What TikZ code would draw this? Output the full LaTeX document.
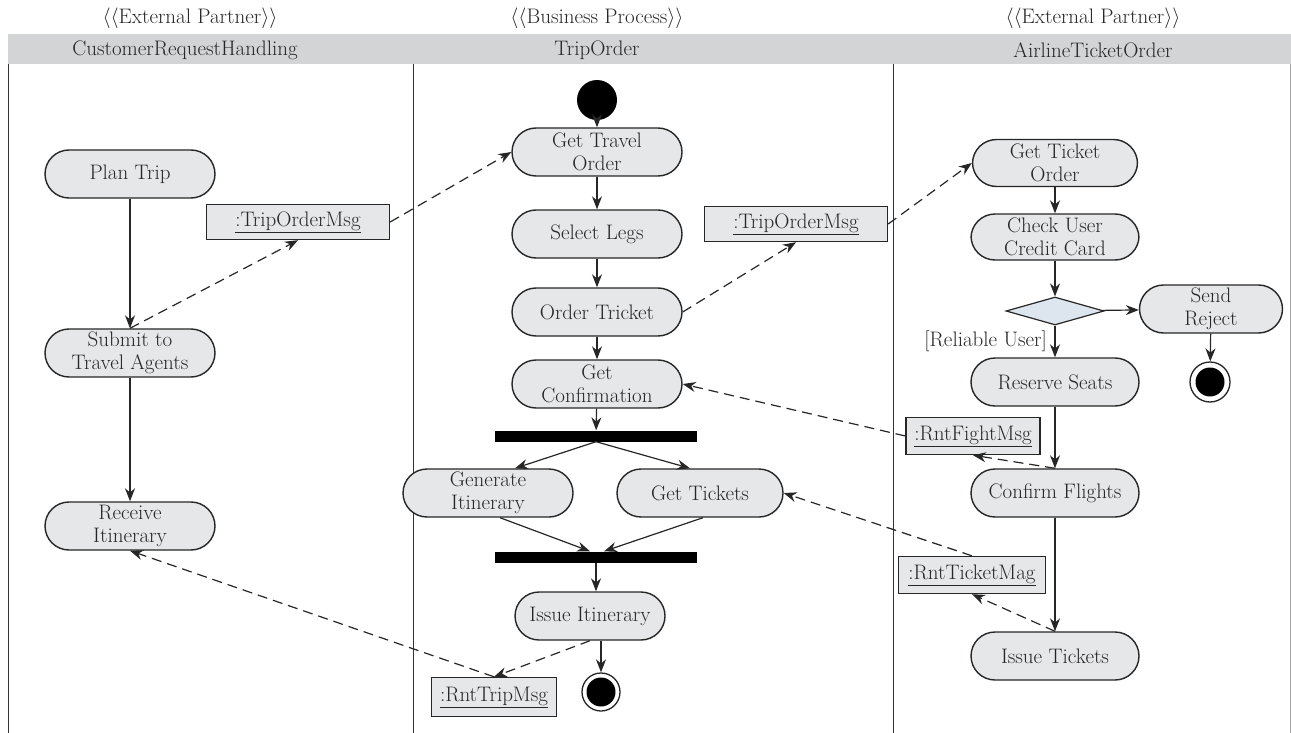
\documentclass[tikz,border=0pt]{standalone}
\usetikzlibrary{shapes.geometric,arrows.meta,calc}
\definecolor{actfill}{HTML}{E6E7E8}
\definecolor{bandfill}{HTML}{D3D4D6}
\definecolor{diafill}{HTML}{DDE5EE}
\definecolor{txt}{HTML}{262626}
\begin{document}
\begin{tikzpicture}[x=1pt,y=-1pt,
  font=\fontsize{21}{23}\selectfont,
  act/.style={draw=black!85, fill=actfill, rounded corners=24pt, minimum height=48pt, minimum width=170pt, align=center, line width=1.4pt, text=txt, inner sep=1pt},
  msg/.style={draw=black!85, fill=actfill, minimum height=36pt, line width=1.4pt, text=txt, inner sep=1pt},
  bar/.style={fill=black, minimum width=202pt, minimum height=11pt, inner sep=0pt},
  flow/.style={-{Stealth[length=13pt,width=10pt]}, line width=1.2pt, draw=black!85},
  msgflow/.style={flow, dash pattern=on 10pt off 6pt},
  lane/.style={line width=1pt, draw=black!80},
  hdr/.style={text=txt, inner sep=0pt},
  startc/.style={circle, fill=black, minimum size=40pt, inner sep=0pt},
  endcirc/.style={circle, draw=black!85, line width=1.3pt, fill=white, minimum size=38pt, inner sep=0pt,
     path picture={\fill[black] (path picture bounding box.center) circle (14.5pt);}},
]
\useasboundingbox (0,0) rectangle (1291,733);
% swimlane headers
\fill[bandfill] (8,34) rectangle (1291,64);
\node[hdr] (s1) at (190,18) {$\langle\langle$External Partner$\rangle\rangle$};
\node[hdr] (s2) at (597,18) {$\langle\langle$Business Process$\rangle\rangle$};
\node[hdr] (s3) at (1093,18) {$\langle\langle$External Partner$\rangle\rangle$};
\node[hdr] (h1) at (185,50) {CustomerRequestHandling};
\node[hdr] (h2) at (597,50) {TripOrder};
\node[hdr] (h3) at (1093,50) {AirlineTicketOrder};
\draw[lane] (8,64) -- (8,733);
\draw[lane] (413,64) -- (413,733);
\draw[lane] (893,64) -- (893,733);
\draw[line width=1pt, draw=black!35] (1290,64) -- (1290,733);

% left lane
\node[act] (plan) at (130,174) {Plan Trip};
\node[act] (sub) at (130,353) {Submit to\\Travel Agents};
\node[act] (ri) at (130,526) {Receive\\Itinerary};
\node[msg, minimum width=183pt, minimum height=35pt] (m1) at (298,222) {\underline{:TripOrderMsg}};

% middle lane
\node[startc] (start) at (597,100) {};
\node[act] (gto) at (597,152) {Get Travel\\Order};
\node[act] (sl) at (597,234) {Select Legs};
\node[act] (ot) at (597,312) {Order Tricket};
\node[act] (gc) at (597,384) {Get\\Confirmation};
\node[bar] (fork) at (596,436) {};
\node[act] (gi) at (488,493) {Generate\\Itinerary};
\node[act, minimum width=166pt] (gt) at (700,493) {Get Tickets};
\node[bar] (join) at (596,557) {};
\node[act, minimum width=150pt] (ii) at (590,616) {Issue Itinerary};
\node[endcirc] (endc) at (601,692) {};
\node[msg, minimum width=125pt, minimum height=39pt] (rtrip) at (494,697) {\underline{:RntTripMsg}};
\node[msg, minimum width=183pt, minimum height=35pt] (m2) at (796,224) {\underline{:TripOrderMsg}};

% right lane
\node[act, minimum width=165pt, minimum height=47pt] (gto2) at (1055,163) {Get Ticket\\Order};
\node[act, minimum width=168pt, minimum height=46pt] (cc) at (1055,237) {Check User\\Credit Card};
\node[diamond, draw=black!85, fill=diafill, line width=1.2pt, minimum width=98pt, minimum height=28pt, inner sep=0pt] (dia) at (1055,311) {};
\node[act, minimum width=143pt] (sr) at (1211,309) {Send\\Reject};
\node[endcirc, minimum size=40pt] (end2) at (1210,382) {};
\node[hdr, anchor=east] (rel) at (1047,341) {[Reliable User]};
\node[act, minimum width=168pt] (rs) at (1055,382) {Reserve Seats};
\node[msg, minimum width=134pt, minimum height=37pt] (rfm) at (973,436) {\underline{:RntFightMsg}};
\node[act, minimum width=168pt] (cf) at (1055,493) {Confirm Flights};
\node[msg, minimum width=147pt, minimum height=37pt] (rtm) at (972,575) {\underline{:RntTicketMag}};
\node[act, minimum width=168pt] (it) at (1055,656) {Issue Tickets};

% control flows
\draw[flow] (plan) -- (sub);
\draw[flow] (sub) -- (ri);
\draw[flow] (start) -- (gto);
\draw[flow] (gto) -- (sl);
\draw[flow] (sl) -- (ot);
\draw[flow] (ot) -- (gc);
\draw[flow] (gc) -- (fork);
\draw[flow] (fork.south) -- ($(gi.north)+(27,0)$);
\draw[flow] (fork.south) -- ($(gt.north)+(-10,0)$);
\draw[flow] ($(gi.south)+(12,0)$) -- ($(join.north)+(-6,0)$);
\draw[flow] ($(gt.south)+(3,0)$) -- ($(join.north)+(8,0)$);
\draw[flow] (join.south) -- (join.south |- ii.north);
\draw[flow] (endc.north |- ii.south) -- (endc.north);
\draw[flow] (gto2) -- (cc);
\draw[flow] (cc) -- (dia);
\draw[flow] (dia) -- (sr);
\draw[flow] (dia) -- (rs);
\draw[flow] (sr) -- (end2);
\draw[flow] (rs) -- (cf);
\draw[flow] (cf) -- (it);

% object flows
\draw[msgflow] (sub.north) -- (m1.south);
\draw[msgflow] (m1.east) -- (gto.west);
\draw[msgflow] (ot.east) -- (m2.south);
\draw[msgflow] (m2.east) -- (gto2.west);
\draw[msgflow] (cf.north) -- (rfm.south);
\draw[msgflow] (rfm.west) -- (gc.east);
\draw[msgflow] (it.north) -- (rtm.south);
\draw[msgflow] (rtm.north) -- (gt.east);
\draw[msgflow] (ii.south) -- (rtrip.north);
\draw[msgflow] (rtrip.north) -- (ri.south);
\end{tikzpicture}
\end{document}
